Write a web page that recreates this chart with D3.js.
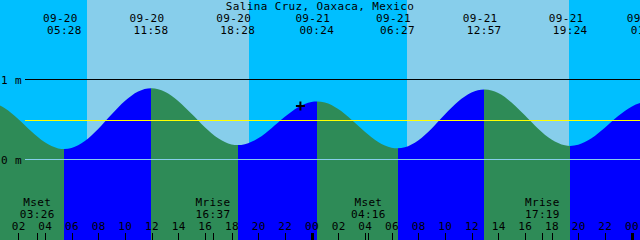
<!DOCTYPE html>
<html>
<head>
<meta charset="utf-8">
<script src="https://cdn.jsdelivr.net/npm/d3@7"></script>
<style>
  body { margin: 0; background: #fff; }
  svg { display: block; }
  text { font-family: "DejaVu Sans Mono", monospace; font-size: 11px; letter-spacing: 0.35px; fill: #000; }
  line { shape-rendering: crispEdges; }
</style>
</head>
<body>
<div id="wrapper"></div>
<script>
const title = "Salina Cruz, Oaxaca, Mexico";

// high / low tides (labels on top)
const eventTimes = ["09-20 05:28", "09-20 11:58", "09-20 18:28", "09-21 00:24",
                    "09-21 06:27", "09-21 12:57", "09-21 19:24", "09-22 01:15"];
const eventLevels = [0.13, 0.89, 0.18, 0.725, 0.14, 0.875, 0.17, 0.72];
const eventKinds = ["low", "high", "low", "high", "low", "high", "low", "high"];

// tide level read every hour from 09-20 00:00
const hourlyStart = "09-20 00:00";
const hourlyLevels = [0.720, 0.641, 0.506, 0.349, 0.215, 0.139, 0.143, 0.230, 0.381, 0.562,
                      0.730, 0.849, 0.890, 0.847, 0.732, 0.572, 0.404, 0.266, 0.189, 0.191,
                      0.265, 0.391, 0.533, 0.653, 0.719, 0.711, 0.630, 0.497, 0.347, 0.219,
                      0.148, 0.153, 0.238, 0.385, 0.561, 0.724, 0.837, 0.875, 0.830, 0.713,
                      0.553, 0.385, 0.249, 0.177, 0.184, 0.265, 0.397, 0.543, 0.660, 0.718];

// sun and moon
const sunTimes = ["09-20 07:10", "09-20 19:19", "09-21 07:10", "09-21 19:19"];
const moonTimes = ["09-20 03:26", "09-20 16:37", "09-21 04:16", "09-21 17:19"];
const moonLabels = ["Mset", "Mrise", "Mset", "Mrise"];

// levels drawn as lines
const depthLevels = [0, 1];
const depthLabels = ["0 m", "1 m"];
const meanLevel = 0.487;

// current time marker
const nowTime = "09-20 23:10";
const nowLevel = 0.67;

const parse = d3.timeParse("%m-%d %H:%M");
const width = 640, height = 240;

const x = d3.scaleTime()
    .domain([parse("09-20 00:00"), parse("09-22 00:00")])
    .range([-8.5, 631.5]);
const y = d3.scaleLinear()
    .domain([0, 1])
    .range([159.5, 79.5]);

const svg = d3.select("#wrapper")
    .append("svg")
    .attr("width", width)
    .attr("height", height);

// sky: night / day
const sun = sunTimes.map(parse);
const skyBounds = [0].concat(sun.map(d => Math.round(x(d))), [width]);
svg.append("g")
    .selectAll("rect")
    .data(d3.range(skyBounds.length - 1))
    .enter()
    .append("rect")
    .attr("x", i => skyBounds[i])
    .attr("y", 0)
    .attr("width", i => skyBounds[i + 1] - skyBounds[i])
    .attr("height", height)
    .attr("fill", i => i % 2 === 0 ? "#00bfff" : "#87ceeb");

// tide curve points
const start = parse(hourlyStart);
const events = eventTimes.map((t, i) => ({date: parse(t), level: eventLevels[i], kind: eventKinds[i]}));
let points = hourlyLevels.map((v, i) => ({date: d3.timeHour.offset(start, i), level: v}));
points = points.concat(events.map(d => ({date: d.date, level: d.level})));
points.sort((a, b) => a.date - b.date);

const area = d3.area()
    .x(d => x(d.date))
    .y0(height)
    .y1(d => y(d.level))
    .curve(d3.curveMonotoneX);

svg.append("clipPath")
    .attr("id", "water")
    .append("path")
    .attr("d", area(points));

// rising = blue, falling = green
const waterBounds = [0].concat(events.map(d => Math.round(x(d.date))));
svg.append("g")
    .attr("clip-path", "url(#water)")
    .selectAll("rect")
    .data(events)
    .enter()
    .append("rect")
    .attr("x", (d, i) => waterBounds[i])
    .attr("y", 0)
    .attr("width", (d, i) => waterBounds[i + 1] - waterBounds[i])
    .attr("height", height)
    .attr("fill", d => d.kind === "high" ? "#0000ff" : "#2e8b57");

// depth lines
svg.append("g")
    .selectAll("line")
    .data(depthLevels)
    .enter()
    .append("line")
    .attr("x1", 25)
    .attr("x2", width)
    .attr("y1", d => y(d))
    .attr("y2", d => y(d))
    .attr("stroke", d => d === 0 ? "#87ceeb" : "#000");

svg.append("line")
    .attr("x1", 25)
    .attr("x2", width)
    .attr("y1", Math.floor(y(meanLevel)) + 0.5)
    .attr("y2", Math.floor(y(meanLevel)) + 0.5)
    .attr("stroke", "#ffff00");

svg.append("g")
    .selectAll("text")
    .data(depthLevels)
    .enter()
    .append("text")
    .attr("x", 1)
    .attr("y", d => y(d) + 4)
    .text((d, i) => depthLabels[i]);

// title and tide times
svg.append("text")
    .attr("x", width / 2)
    .attr("y", 10)
    .attr("text-anchor", "middle")
    .text(title);

const topLabels = svg.append("g")
    .selectAll("g")
    .data(events)
    .enter()
    .append("g")
    .attr("transform", d => `translate(${x(d.date)},0)`);
topLabels.append("text")
    .attr("x", -4)
    .attr("y", 22)
    .attr("text-anchor", "middle")
    .text(d => d3.timeFormat("%m-%d")(d.date));
topLabels.append("text")
    .attr("y", 34)
    .attr("text-anchor", "middle")
    .text(d => d3.timeFormat("%H:%M")(d.date));

// moon
const moon = svg.append("g")
    .selectAll("g")
    .data(moonTimes)
    .enter()
    .append("g")
    .attr("transform", d => `translate(${x(parse(d))},0)`);
moon.append("text")
    .attr("y", 206)
    .attr("text-anchor", "middle")
    .text((d, i) => moonLabels[i]);
moon.append("text")
    .attr("y", 218)
    .attr("text-anchor", "middle")
    .text(d => d.slice(6));
moon.append("line")
    .attr("x1", 0.5)
    .attr("x2", 0.5)
    .attr("y1", 233)
    .attr("y2", height)
    .attr("stroke", "#000");

// hour axis (only ticks inside the picture)
const hourTicks = x.ticks(d3.timeHour.every(2)).filter(d => x(d) >= 0 && x(d) <= width);
const axis = svg.append("g")
    .attr("transform", `translate(0,${height})`)
    .call(d3.axisTop(x)
        .tickValues(hourTicks)
        .tickFormat(d3.timeFormat("%H"))
        .tickSize(7)
        .tickPadding(3));
axis.select(".domain").remove();
axis.selectAll(".tick line")
    .attr("stroke", "#000")
    .attr("stroke-width", d => d.getHours() === 0 ? 3 : 1);

// current time
const cx = x(parse(nowTime)), cy = y(nowLevel);
svg.append("path")
    .attr("d", `M${cx - 4.5},${cy}H${cx + 4.5}M${cx},${cy - 4.5}V${cy + 4.5}`)
    .attr("stroke", "#000")
    .attr("stroke-width", 2);
</script>
</body>
</html>
